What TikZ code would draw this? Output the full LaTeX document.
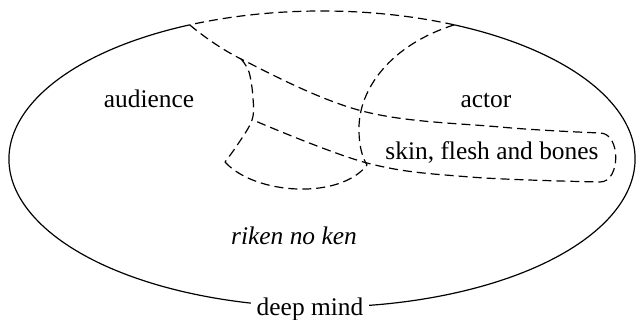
\documentclass[tikz,border=0pt]{standalone}
\usepackage{fontspec}
\setmainfont{Liberation Serif}
\begin{document}
\begin{tikzpicture}[
                    x=0.5pt, y=0.5pt,
                    line width=0.6pt,
                    txt/.style={font=\fontsize{12.7}{15}\selectfont, anchor=base, inner sep=0pt},
                    rim/.style={dash pattern=on 4.5pt off 2.5pt}
                ]
                \useasboundingbox (0,0) rectangle (636,320);

                % mind: solid rim, dashed where the two circles touch it
                \coordinate (atop) at ([shift={(322,161)}]115:313 and 148);
                \coordinate (btop) at ([shift={(322,161)}]65:313 and 148);
                \draw (atop) arc[start angle=115, end angle=425, x radius=156.5pt, y radius=74pt];
                \draw[rim] (btop) arc[start angle=65, end angle=115, x radius=156.5pt, y radius=74pt];

                % funnel out to skin, flesh and bones
                \draw[rim] plot[smooth, tension=0.6] coordinates {(atop) (241,261) (362,209) (500,193) (600,187)}
                    .. controls (621,187) and (621,138) .. (600,138)
                    -- plot[smooth, tension=0.6] coordinates {(600,138) (470,143) (367,157) (253,200)};

                % audience circle
                \draw[rim] plot[smooth, tension=0.6] coordinates {(241,261) (249,248) (253,222) (252,200) (238,176) (225,158)};
                \draw[rim] (225,158) .. controls (255,125) and (340,120) .. (367,155);

                % actor circle
                \draw[rim] (btop) .. controls (390,275) and (358,230) .. (359,190)
                    .. controls (359,175) and (362,163) .. (367,155);

                \node[txt] (aud)   at (149,212) {audience};
                \node[txt] (act)   at (486,212) {actor};
                \node[txt] (skin)  at (492,160) {skin, flesh and bones};
                \node[txt, font=\fontsize{12.7}{15}\selectfont\itshape] (riken) at (294,75) {riken no ken};
                \node[txt, fill=white, inner xsep=3pt] (deep) at (310,4) {deep mind};

            \end{tikzpicture}
\end{document}
